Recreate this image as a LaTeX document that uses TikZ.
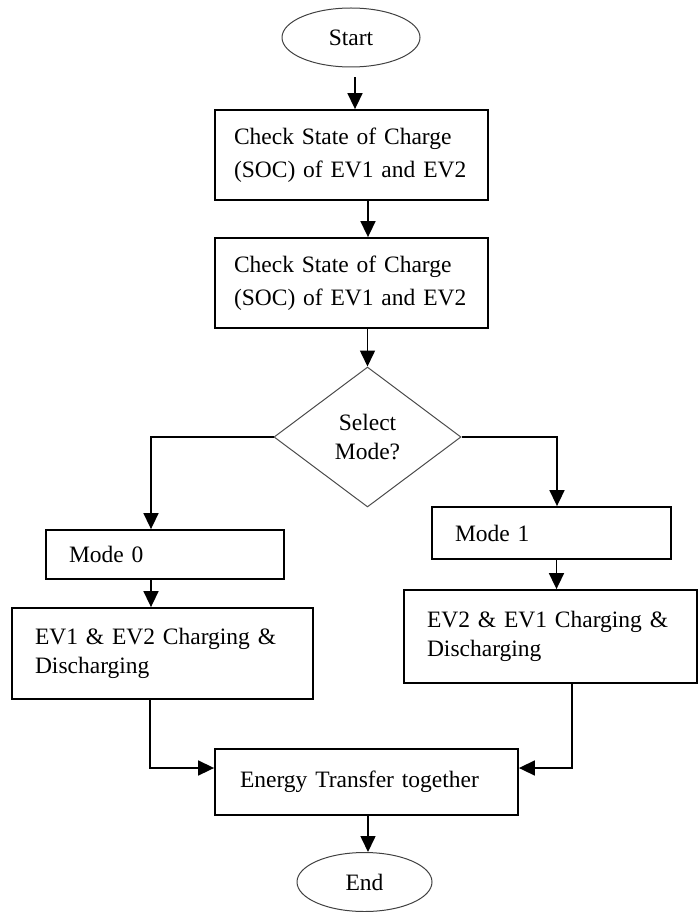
\documentclass[tikz,border=0pt]{standalone}
\usepackage{fontspec}
\setmainfont{Liberation Serif}
\usetikzlibrary{shapes.geometric,arrows.meta}

\begin{document}
\begin{tikzpicture}[x=1pt,y=-1pt,
    font=\fontsize{23.5}{29}\selectfont,
    caja/.style={draw, rectangle, line width=1.8pt, align=left, inner xsep=23pt, inner ysep=0pt},
    terminal/.style={draw=black!75, ellipse, line width=1pt, inner sep=0pt},
    decision/.style={draw=black!70, diamond, line width=1pt, inner sep=0pt, align=center},
    flecha/.style={line width=1.6pt, -{Triangle[length=16pt,width=15pt]}}]

    \useasboundingbox (0,0) rectangle (698,912);

    % Inicio
        \node[terminal, minimum width=138pt, minimum height=59pt] (inicio) at (351,37.5) {Start};

    % Revision del SOC
        \node[caja, inner xsep=19pt, text width=235pt, minimum height=90pt] (paso1) at (351.5,155)
            {Check State of Charge\\[4pt](SOC) of EV1 and EV2};
        \node[caja, inner xsep=19pt, text width=235pt, minimum height=90pt] (paso2) at (351.5,283)
            {Check State of Charge\\[4pt](SOC) of EV1 and EV2};

    % Decision
        \node[decision, minimum width=187pt, minimum height=140pt] (seleccion) at (367.5,437)
            {Select\\Mode?};

    % Rama izquierda
        \node[caja, text width=192pt, minimum height=49pt] (modo0) at (165,554.5) {Mode 0};
        \node[caja, text width=255pt, minimum height=91pt] (carga0) at (162.5,653.5)
            {EV1 \& EV2 Charging \&\\Discharging};

    % Rama derecha
        \node[caja, text width=193pt, minimum height=52pt] (modo1) at (551.5,533) {Mode 1};
        \node[caja, text width=247pt, minimum height=93pt] (carga1) at (550.5,636.5)
            {EV2 \& EV1 Charging \&\\Discharging\\[12pt]};

    % Transferencia y fin
        \node[caja, inner xsep=25pt, text width=253pt, minimum height=66pt] (energia) at (366.5,782)
            {Energy Transfer together};
        \node[terminal, minimum width=135pt, minimum height=59pt] (fin) at (364.5,882) {End};

    % Flechas
        \draw[flecha] ([xshift=4pt,yshift=-10pt]inicio.south) -- ([xshift=3.5pt]paso1.north);
        \draw[flecha] ([xshift=16.5pt]paso1.south) -- ([xshift=16.5pt]paso2.north);
        \draw[flecha] (paso2.south -| seleccion.north) -- (seleccion.north);

        \draw[flecha] (seleccion.west) -| ([xshift=-14pt]modo0.north);
        \draw[flecha] ([xshift=-14pt]modo0.south) -- ([xshift=-14pt]modo0.south |- carga0.north);
        \draw[flecha] (seleccion.east) -| ([xshift=5.5pt]modo1.north);
        \draw[flecha] ([xshift=5pt]modo1.south) -- ([xshift=5pt]modo1.south |- carga1.north);

        \draw[flecha] ([xshift=-12.5pt]carga0.south) |- ([yshift=14pt]energia.west);
        \draw[flecha] ([xshift=21.5pt]carga1.south) |- ([yshift=14pt]energia.east);
        \draw[flecha] ([xshift=1.5pt]energia.south) -- ([xshift=1.5pt]energia.south |- fin.north);

\end{tikzpicture}
\end{document}
